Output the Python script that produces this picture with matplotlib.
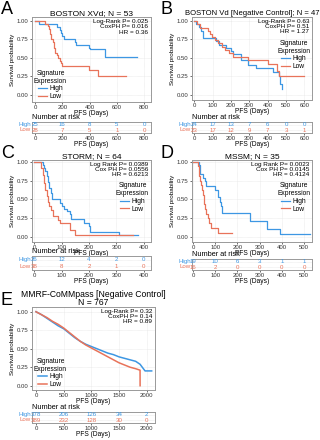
import matplotlib
matplotlib.use("Agg")
import matplotlib.pyplot as plt
import numpy as np

plt.rcParams['font.family'] = ['Liberation Sans', 'DejaVu Sans']

BLUE = '#3d97e3'
RED = '#e8735a'

# ---------------- Data ----------------
# Panel A: BOSTON XVd
a_high_t = [0, 30, 165, 180, 190, 200, 210, 295, 300, 395, 400, 510, 745]
a_high_s = [1.0, 0.96, 0.92, 0.88, 0.84, 0.80, 0.76, 0.72, 0.68, 0.64, 0.62, 0.52, 0.52]
a_low_t = [0, 75, 95, 100, 110, 120, 130, 140, 150, 160, 170, 180, 190, 200, 395, 460, 665]
a_low_s = [1.0, 0.96, 0.93, 0.89, 0.82, 0.75, 0.71, 0.64, 0.57, 0.54, 0.50, 0.46, 0.43, 0.39, 0.34, 0.25, 0.25]
a_ticks = [0, 200, 400, 600, 800]
a_risk_high = [25, 16, 8, 5, 0]
a_risk_low = [28, 7, 5, 1, 0]

# Panel B: BOSTON Vd
b_high_t = [0, 10, 27, 35, 45, 120, 135, 175, 200, 210, 255, 290, 335, 430, 460, 470, 476, 480]
b_high_s = [1.0, 0.96, 0.92, 0.87, 0.77, 0.73, 0.68, 0.64, 0.60, 0.55, 0.47, 0.41, 0.36, 0.31, 0.25, 0.15, 0.08, 0.08]
b_low_t = [0, 15, 30, 75, 85, 95, 110, 130, 150, 165, 190, 210, 290, 400, 450, 460, 600]
b_low_s = [1.0, 0.96, 0.91, 0.87, 0.83, 0.78, 0.74, 0.70, 0.65, 0.61, 0.57, 0.52, 0.47, 0.42, 0.33, 0.25, 0.25]
b_ticks = [0, 100, 200, 300, 400, 500, 600]
b_risk_high = [24, 17, 13, 7, 6, 0, 0]
b_risk_low = [23, 17, 12, 9, 7, 3, 1]

# Panel C: STORM
c_high_t = [0, 30, 35, 40, 45, 50, 55, 60, 65, 95, 100, 110, 120, 130, 135, 180, 200, 205, 310, 378]
c_high_s = [1.0, 0.96, 0.92, 0.88, 0.81, 0.73, 0.65, 0.58, 0.50, 0.46, 0.42, 0.38, 0.35, 0.31, 0.24, 0.19, 0.15, 0.07, 0.03, 0.03]
c_low_t = [0, 25, 30, 35, 40, 45, 50, 55, 60, 70, 85, 95, 130, 150, 360]
c_low_s = [1.0, 0.92, 0.83, 0.72, 0.62, 0.55, 0.47, 0.41, 0.36, 0.28, 0.23, 0.19, 0.10, 0.03, 0.03]
c_ticks = [0, 100, 200, 300, 400]
c_risk_high = [26, 12, 4, 2, 0]
c_risk_low = [38, 8, 2, 1, 0]

# Panel D: MSSM
d_high_t = [0, 25, 30, 45, 55, 60, 100, 110, 120, 125, 130, 255, 333, 392, 527]
d_high_s = [1.0, 0.95, 0.84, 0.79, 0.74, 0.68, 0.63, 0.53, 0.47, 0.42, 0.32, 0.22, 0.11, 0.05, 0.05]
d_low_t = [0, 20, 25, 28, 32, 35, 40, 43, 47, 50, 55, 60, 65, 70, 80, 110, 176]
d_low_s = [1.0, 0.94, 0.88, 0.81, 0.75, 0.69, 0.62, 0.56, 0.50, 0.44, 0.37, 0.31, 0.25, 0.19, 0.12, 0.06, 0.06]
d_ticks = [0, 100, 200, 300, 400, 500]
d_risk_high = [19, 10, 6, 3, 1, 1]
d_risk_low = [16, 2, 0, 0, 0, 0]

# Panel E: MMRF-CoMMpass
e_high_t = [0, 100, 200, 300, 400, 500, 600, 700, 800, 900, 1000, 1100, 1200, 1300, 1400, 1500, 1600, 1700, 1800, 1880, 1970, 2090]
e_high_s = [1.0, 0.96, 0.91, 0.86, 0.81, 0.77, 0.71, 0.65, 0.60, 0.56, 0.53, 0.50, 0.47, 0.44, 0.42, 0.39, 0.37, 0.35, 0.33, 0.29, 0.20, 0.20]
e_low_t = [0, 100, 200, 300, 400, 500, 600, 700, 800, 900, 1000, 1100, 1200, 1300, 1400, 1500, 1600, 1700, 1800, 1880, 1881]
e_low_s = [1.0, 0.96, 0.92, 0.87, 0.83, 0.78, 0.72, 0.66, 0.60, 0.55, 0.51, 0.47, 0.43, 0.39, 0.35, 0.31, 0.28, 0.25, 0.23, 0.21, 0.0]
e_ticks = [0, 500, 1000, 1500, 2000]
e_risk_high = [378, 206, 126, 34, 2]
e_risk_low = [389, 232, 128, 30, 0]

y_ticks = [0.0, 0.25, 0.5, 0.75, 1.0]

W, H = 320, 440
fig = plt.figure(figsize=(W / 100, H / 100), dpi=100)


def rect(x0, y0, x1, y1):
    return [x0 / W, 1 - y1 / H, (x1 - x0) / W, (y1 - y0) / H]


def style_axes(ax):
    for sp in ax.spines.values():
        sp.set_color('#999999')
        sp.set_linewidth(0.7)
    ax.tick_params(labelsize=4.3, length=1.5, width=0.5, pad=1, colors='#333333')


def panel(main_r, tab_r, xlim, ylim, ticks, ht, hs, lt, ls, stats, title, title_fs,
          legend_loc, risk_h, risk_l, letter, letter_xy, steps=True):
    ax = fig.add_axes(rect(*main_r))
    style_axes(ax)
    ds = 'steps-post' if steps else 'default'
    lw = 0.9 if steps else 1.1
    ax.plot(ht, hs, color=BLUE, lw=lw, drawstyle=ds, label='High')
    ax.plot(lt, ls, color=RED, lw=lw, drawstyle=ds, label='Low')
    ax.set_xlim(*xlim)
    ax.set_ylim(*ylim)
    ax.set_xticks(ticks)
    ax.set_yticks(y_ticks)
    ax.set_yticklabels(['0.00', '0.25', '0.50', '0.75', '1.00'])
    ax.grid(True, color='#dddddd', lw=0.4, ls=(0, (1, 1)))
    ax.set_xlabel('PFS (Days)', fontsize=4.8, labelpad=0)
    ax.set_ylabel('Survival probability', fontsize=4.5, labelpad=1.5)
    ax.set_title(title, fontsize=title_fs, pad=1.5, linespacing=0.9)
    ax.text(0.975, 0.975, stats, transform=ax.transAxes, ha='right', va='top',
            fontsize=4.6, linespacing=1.05)
    if legend_loc == 'left':
        leg = ax.legend(title='Signature\nExpression', loc='lower left',
                        bbox_to_anchor=(0.0, 0.0), frameon=False, fontsize=4.8,
                        title_fontsize=4.8, handlelength=1.3, handletextpad=0.3,
                        borderaxespad=0.2, labelspacing=0.1, borderpad=0.1)
    else:
        leg = ax.legend(title='Signature\nExpression', loc='upper right',
                        bbox_to_anchor=(1.0, 0.75), frameon=False, fontsize=4.8,
                        title_fontsize=4.8, handlelength=1.3, handletextpad=0.3,
                        borderaxespad=0.2, labelspacing=0.1, borderpad=0.1)
    leg.get_title().set_multialignment('center')

    tb = fig.add_axes(rect(*tab_r))
    style_axes(tb)
    tb.set_xlim(*xlim)
    tb.set_ylim(0, 1)
    tb.set_yticks([])
    tb.set_xticks(ticks)
    tb.set_xlabel('PFS (Days)', fontsize=4.8, labelpad=0)
    for yy in (0.74, 0.26):
        tb.axhline(yy, color='#dddddd', lw=0.4, ls=(0, (1, 1)))
    for t, v in zip(ticks, risk_h):
        tb.text(t, 0.74, str(v), color=BLUE, fontsize=4.4, ha='center', va='center')
    for t, v in zip(ticks, risk_l):
        tb.text(t, 0.26, str(v), color=RED, fontsize=4.4, ha='center', va='center')
    tb.text(-0.01, 0.74, 'High', color=BLUE, fontsize=4.4, ha='right', va='center',
            transform=tb.transAxes)
    tb.text(-0.01, 0.28, 'Low', color=RED, fontsize=4.4, ha='right', va='center',
            transform=tb.transAxes)
    tb.text(0.0, 1.08, 'Number at risk', fontsize=5.3, ha='left', va='bottom',
            transform=tb.transAxes)
    fig.text(letter_xy[0] / W, 1 - letter_xy[1] / H, letter, fontsize=13,
             ha='left', va='top')


panel((32, 17, 151, 102), (32, 122, 151, 133), (-22, 851), (-0.095, 1.054), a_ticks,
      a_high_t, a_high_s, a_low_t, a_low_s,
      'Log-Rank P= 0.025\nCoxPH P= 0.016\nHR = 0.36', 'BOSTON XVd; N = 53', 6,
      'left', a_risk_high, a_risk_low, 'A', (1, 1))

panel((192, 17, 312, 100), (192, 122, 312, 133), (-13, 642), (-0.068, 1.054), b_ticks,
      b_high_t, b_high_s, b_low_t, b_low_s,
      'Log-Rank P= 0.63\nCoxPH P= 0.51\nHR = 1.27', 'BOSTON Vd [Negative Control]; N = 47', 5.5,
      'right', b_risk_high, b_risk_low, 'B', (161, 1))

panel((32, 160, 151, 242), (32, 256, 151, 270), (-8.5, 426), (-0.062, 1.022), c_ticks,
      c_high_t, c_high_s, c_low_t, c_low_s,
      'Log Rank P= 0.0389\nCox PH P= 0.0556\nHR = 0.6213', 'STORM; N = 64', 6,
      'right', c_risk_high, c_risk_low, 'C', (1, 145))

panel((192, 160, 312, 242), (192, 259, 312, 270), (-5, 536), (-0.062, 1.022), d_ticks,
      d_high_t, d_high_s, d_low_t, d_low_s,
      'Log Rank P= 0.0023\nCox PH P= 0.0145\nHR = 0.4124', 'MSSM; N = 35', 6,
      'right', d_risk_high, d_risk_low, 'D', (161, 145))

panel((32, 307, 155, 390), (32, 412, 155, 423), (-72, 2150), (-0.058, 1.064), e_ticks,
      e_high_t, e_high_s, e_low_t, e_low_s,
      'Log-Rank P= 0.32\nCoxPH P= 0.14\nHR = 0.89',
      'MMRF-CoMMpass [Negative Control]\nN = 767', 6.2,
      'left', e_risk_high, e_risk_low, 'E', (1, 292), steps=False)

fig.savefig('out.png', dpi=100)
